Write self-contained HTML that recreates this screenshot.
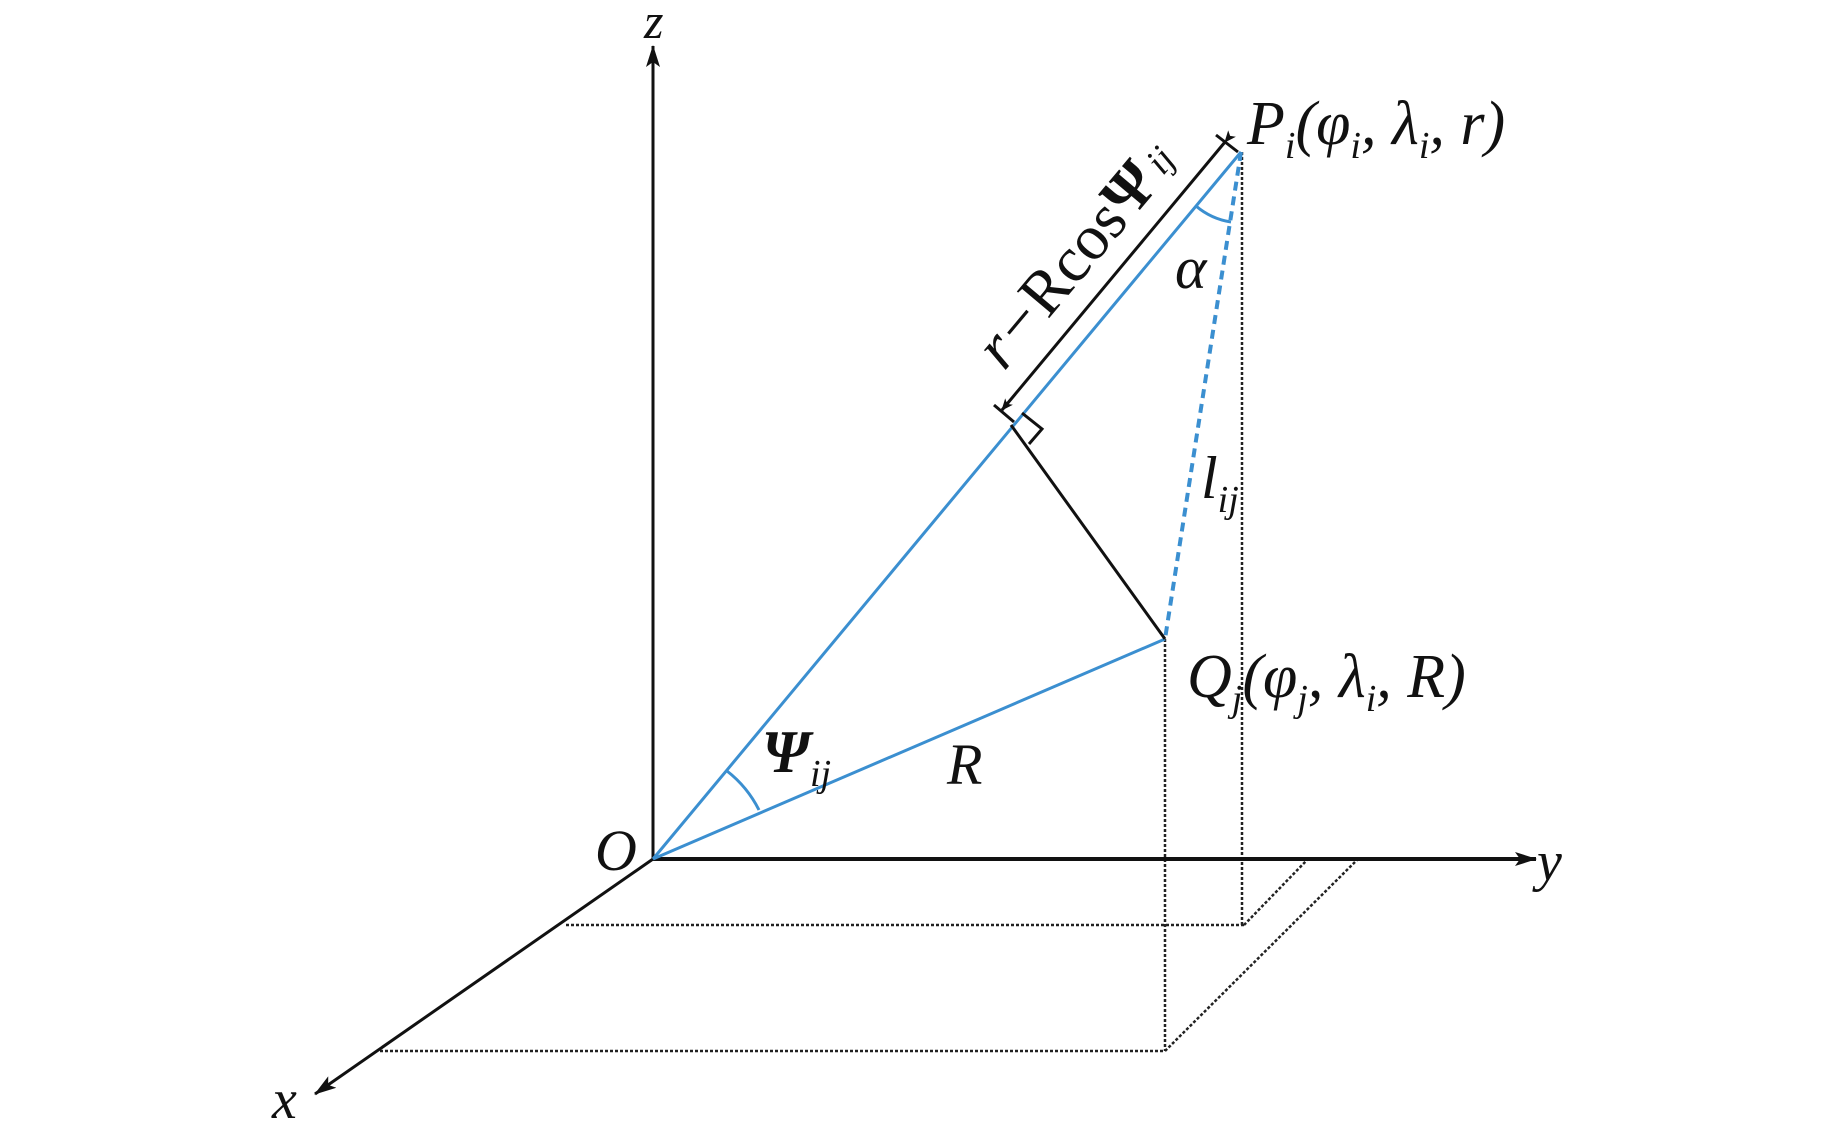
<!DOCTYPE html>
<html><head><meta charset="utf-8"><style>html,body{margin:0;padding:0;background:#fff}svg{display:block}text{font-family:"Liberation Serif",serif;font-style:italic;fill:#111}</style></head>
<body>
<svg width="1843" height="1134" viewBox="0 0 1843 1134" xmlns="http://www.w3.org/2000/svg">
<defs>
<marker id="ah" markerWidth="12" markerHeight="10" refX="11" refY="5" orient="auto" markerUnits="userSpaceOnUse"><path d="M0,0 L12,5 L0,10 L3,5 Z" fill="#111"/></marker>
<marker id="ah2" markerWidth="22" markerHeight="14" refX="21" refY="7" orient="auto" markerUnits="userSpaceOnUse"><path d="M0,0 L22,7 L0,14 L5,7 Z" fill="#111"/></marker>
</defs>
<g transform="translate(-8,-8)">
<!-- dotted box -->
<g stroke="#222" stroke-width="2.5" stroke-dasharray="3,2" fill="none">
<line x1="574" y1="933" x2="1252" y2="933"/>
<line x1="1252" y1="933" x2="1316" y2="867"/>
<line x1="388" y1="1059" x2="1173" y2="1059"/>
<line x1="1173" y1="1059" x2="1366" y2="867"/>
<line x1="1173" y1="647" x2="1173" y2="1059"/>
<line x1="1250" y1="160" x2="1250" y2="933"/>
</g>
<!-- axes -->
<line x1="661" y1="867" x2="661" y2="54" stroke="#111" stroke-width="3" marker-end="url(#ah2)"/>
<line x1="661" y1="867" x2="1544" y2="867" stroke="#111" stroke-width="4" marker-end="url(#ah2)"/>
<line x1="661" y1="867" x2="323" y2="1102" stroke="#111" stroke-width="3" marker-end="url(#ah2)"/>
<!-- blue lines -->
<g stroke="#3b8fd0" stroke-width="3" fill="none">
<line x1="661" y1="867" x2="1249" y2="160"/>
<line x1="661" y1="867" x2="1173" y2="647"/>
<line x1="1249" y1="160" x2="1173" y2="647" stroke-dasharray="9,6" stroke-width="4"/>
<path d="M 735 779 A 115 115 0 0 1 767 818"/>
<path d="M 1204 214 A 70 70 0 0 0 1239 230"/>
</g>
<!-- perpendicular -->
<line x1="1019" y1="433" x2="1173" y2="647" stroke="#111" stroke-width="3"/>
<path d="M 1030 421 L 1050 437 L 1037 452" stroke="#111" stroke-width="3" fill="none"/>
<!-- double arrow -->
<line x1="1233" y1="150" x2="1010" y2="418" stroke="#111" stroke-width="3" marker-end="url(#ah)" marker-start="url(#ah)"/>
<line x1="1224" y1="143" x2="1246" y2="160" stroke="#111" stroke-width="3"/>
<line x1="1002" y1="413" x2="1022" y2="430" stroke="#111" stroke-width="3"/>
<!-- labels -->
<text x="652" y="46" font-size="50">z</text>
<text x="1545" y="888" font-size="56">y</text>
<text x="280" y="1126" font-size="56">x</text>
<text x="603" y="878" font-size="58">O</text>
<text x="1255" y="152" font-size="62">P<tspan font-size="38" dy="14">i</tspan><tspan dy="-14">(φ</tspan><tspan font-size="38" dy="14">i</tspan><tspan dy="-14">, λ</tspan><tspan font-size="38" dy="14">i</tspan><tspan dy="-14">, r)</tspan></text>
<text x="1195" y="705" font-size="62">Q<tspan font-size="38" dy="14">j</tspan><tspan dy="-14">(φ</tspan><tspan font-size="38" dy="14">j</tspan><tspan dy="-14">, λ</tspan><tspan font-size="38" dy="14">i</tspan><tspan dy="-14">, R)</tspan></text>
<text x="1183" y="296" font-size="60">α</text>
<text x="1209" y="506" font-size="60">l<tspan font-size="38" dy="14">ij</tspan></text>
<text x="770" y="780" font-size="60" font-style="normal" font-weight="bold">Ψ<tspan font-size="38" dy="14" font-style="italic" font-weight="normal">ij</tspan></text>
<text x="955" y="792" font-size="58">R</text>
<g transform="translate(1012,380) rotate(-50)">
<text x="0" y="0" font-size="64">r−<tspan font-style="normal">Rcos</tspan><tspan font-style="normal" font-weight="bold">Ψ</tspan><tspan font-size="38" dx="6" dy="-4">ij</tspan></text>
</g>
</g>
</svg>
</body></html>
